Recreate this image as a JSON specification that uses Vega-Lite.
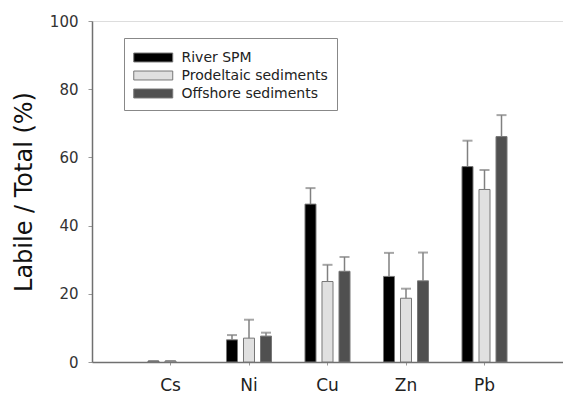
{
  "$schema": "https://vega.github.io/schema/vega-lite/v6.json",
  "autosize": "none",
  "width": 471,
  "height": 341,
  "padding": {"left": 92, "top": 21, "right": 0, "bottom": 33},
  "background": "white",
  "data": {
    "values": [
      {"element": "Cs", "type": "River SPM", "value": 0.3, "upper": 0.3},
      {"element": "Cs", "type": "Prodeltaic sediments", "value": 0.3, "upper": 0.3},
      {"element": "Ni", "type": "River SPM", "value": 6.5, "upper": 7.9},
      {"element": "Ni", "type": "Prodeltaic sediments", "value": 7.0, "upper": 12.4},
      {"element": "Ni", "type": "Offshore sediments", "value": 7.6, "upper": 8.6},
      {"element": "Cu", "type": "River SPM", "value": 46.3, "upper": 51.0},
      {"element": "Cu", "type": "Prodeltaic sediments", "value": 23.6, "upper": 28.5},
      {"element": "Cu", "type": "Offshore sediments", "value": 26.6, "upper": 30.8},
      {"element": "Zn", "type": "River SPM", "value": 25.1, "upper": 32.0},
      {"element": "Zn", "type": "Prodeltaic sediments", "value": 18.7, "upper": 21.5},
      {"element": "Zn", "type": "Offshore sediments", "value": 23.8, "upper": 32.1},
      {"element": "Pb", "type": "River SPM", "value": 57.3, "upper": 64.9},
      {"element": "Pb", "type": "Prodeltaic sediments", "value": 50.6, "upper": 56.3},
      {"element": "Pb", "type": "Offshore sediments", "value": 66.1, "upper": 72.4}
    ]
  },
  "encoding": {
    "x": {
      "field": "element",
      "type": "nominal",
      "sort": ["Cs", "Ni", "Cu", "Zn", "Pb"],
      "scale": {"type": "band", "paddingInner": 0, "paddingOuter": 0.5},
      "axis": {
        "title": null,
        "labelAngle": 0,
        "labelFont": "DejaVu Sans",
        "labelFontSize": 17,
        "labelColor": "#222",
        "labelPadding": 12,
        "tickSize": 3,
        "tickColor": "#999",
        "domainColor": "#707070",
        "domainWidth": 1.5
      }
    },
    "xOffset": {
      "field": "type",
      "type": "nominal",
      "sort": ["River SPM", "Prodeltaic sediments", "Offshore sediments"],
      "scale": {"paddingInner": 0.353, "paddingOuter": 0.985}
    }
  },
  "layer": [
    {
      "mark": {"type": "bar", "stroke": "#777", "strokeWidth": 1},
      "encoding": {
        "y": {
          "field": "value",
          "type": "quantitative",
          "scale": {"domain": [0, 100]},
          "axis": {
            "title": "Labile / Total (%)",
            "titleFont": "DejaVu Sans",
            "titleFontSize": 24,
            "titleFontWeight": "normal",
            "titleColor": "#111",
            "titlePadding": 13,
            "values": [0, 20, 40, 60, 80, 100],
            "grid": false,
            "labelFont": "DejaVu Sans",
            "labelFontSize": 15,
            "labelColor": "#333",
            "labelPadding": 10,
            "tickSize": 4,
            "tickColor": "#999",
            "domainColor": "#707070",
            "domainWidth": 1.5
          }
        },
        "fill": {
          "field": "type",
          "type": "nominal",
          "sort": ["River SPM", "Prodeltaic sediments", "Offshore sediments"],
          "scale": {"range": ["#000000", "#e0e0e0", "#505050"]},
          "legend": {
            "title": null,
            "orient": "none",
            "legendX": 32,
            "legendY": 17,
            "strokeColor": "#888",
            "fillColor": "white",
            "padding": 9,
            "symbolType": "M-1,-0.46H3V0.46H-1Z",
            "symbolSize": 380,
            "symbolStrokeColor": "#777",
            "symbolStrokeWidth": 1,
            "labelFont": "DejaVu Sans",
            "labelFontSize": 14,
            "labelColor": "#222",
            "labelOffset": 27.5,
            "rowPadding": 0
          }
        }
      }
    },
    {
      "mark": {"type": "rule", "color": "#808080", "strokeWidth": 1.5},
      "encoding": {
        "y": {"field": "value", "type": "quantitative"},
        "y2": {"field": "upper"}
      }
    },
    {
      "mark": {"type": "tick", "color": "#808080", "size": 10, "thickness": 2, "orient": "horizontal"},
      "encoding": {
        "y": {"field": "upper", "type": "quantitative"}
      }
    }
  ]
}
